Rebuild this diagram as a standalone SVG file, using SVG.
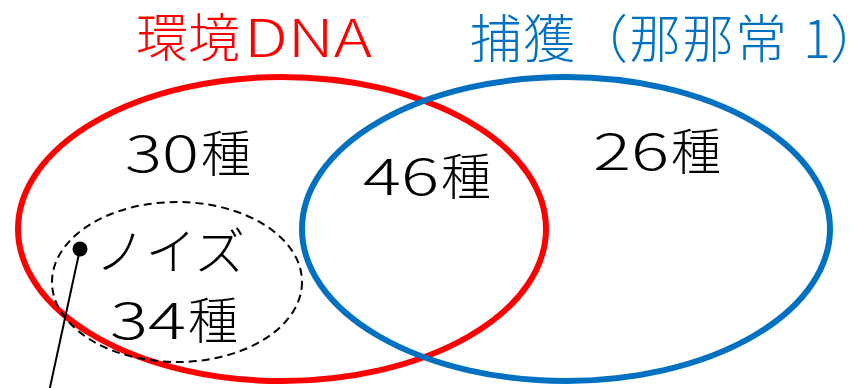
<svg xmlns="http://www.w3.org/2000/svg" width="856" height="388" viewBox="0 0 856 388">
<style>
.t{font-family:"Noto Sans CJK JP","Noto Sans",sans-serif;font-size:50px;font-weight:300;fill:#000}
.ttl{font-family:"Noto Sans CJK JP","Noto Sans",sans-serif;font-size:52px;font-weight:300}
.ell{fill:none;stroke-width:6}
</style>
<rect width="856" height="388" fill="#fff"/>
<g id="edna">
<ellipse class="ell" cx="282" cy="229" rx="264" ry="152" stroke="#FF0000"/>
<text class="ttl" fill="#FF0000" y="57"><tspan x="136">環境</tspan><tspan x="244" textLength="128" lengthAdjust="spacingAndGlyphs">DNA</tspan></text>
</g>
<g id="capture">
<ellipse class="ell" cx="566" cy="229" rx="264" ry="152" stroke="#0070C0"/>
<text class="ttl" fill="#0070C0" y="58" x="470 523 576 629 682 735 803 830">捕獲（那那常1）</text>
</g>
<g id="noise">
<ellipse cx="177" cy="282" rx="125" ry="80" fill="none" stroke="#000" stroke-width="2" stroke-dasharray="8 5"/>
<text class="t" y="270" x="95" textLength="150" lengthAdjust="spacingAndGlyphs">ノイズ</text>
<text class="t" y="339"><tspan x="110" textLength="76" lengthAdjust="spacingAndGlyphs">34</tspan><tspan x="188">種</tspan></text>
</g>
<g id="only-edna">
<text class="t" y="172"><tspan x="125" textLength="74" lengthAdjust="spacingAndGlyphs">30</tspan><tspan x="201">種</tspan></text>
</g>
<g id="both">
<text class="t" y="195"><tspan x="363" textLength="76" lengthAdjust="spacingAndGlyphs">46</tspan><tspan x="441">種</tspan></text>
</g>
<g id="only-capture">
<text class="t" y="170"><tspan x="593" textLength="76" lengthAdjust="spacingAndGlyphs">26</tspan><tspan x="671">種</tspan></text>
</g>
<g id="connectors">
<line x1="80" y1="249" x2="49" y2="392" stroke="#000" stroke-width="2"/>
<circle cx="80" cy="249" r="7.5" fill="#000"/>
</g>
</svg>
